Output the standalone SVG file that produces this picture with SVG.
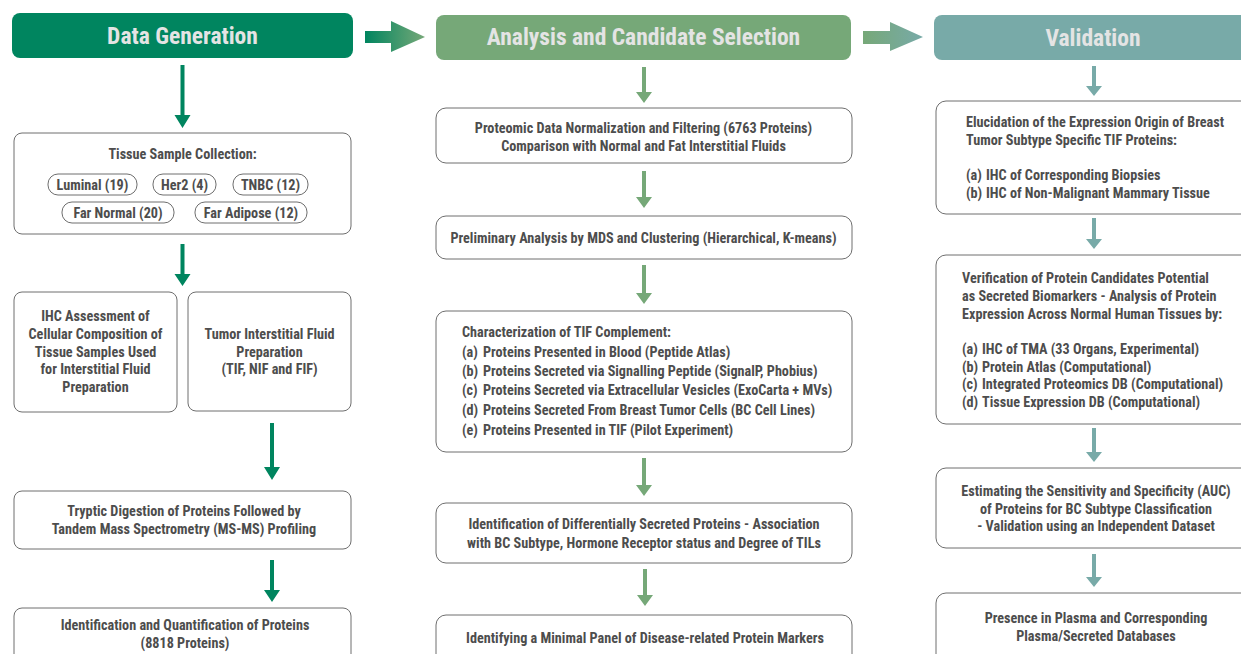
<svg xmlns="http://www.w3.org/2000/svg" width="1241" height="654" viewBox="0 0 1241 654">
<defs>
<style>
.t{font-family:"Liberation Sans Narrow","Roboto Condensed","DejaVu Sans Condensed",sans-serif;font-weight:bold;font-size:14.2px;fill:#4d4d4d}
.c{text-anchor:middle}
.h{font-family:"Liberation Sans Narrow","Roboto Condensed","DejaVu Sans Condensed",sans-serif;font-weight:bold;font-size:23.5px;fill:#e4e4e4;text-anchor:middle}
.box{fill:#fff;stroke:#6e6e6e;stroke-width:1}
.pill{fill:#fff;stroke:#6e6e6e;stroke-width:1}
</style>
<linearGradient id="g1" x1="0" x2="1" y1="0" y2="0"><stop offset="0" stop-color="#00855f"/><stop offset="1" stop-color="#76a878"/></linearGradient>
<linearGradient id="g2" x1="0" x2="1" y1="0" y2="0"><stop offset="0" stop-color="#76a878"/><stop offset="1" stop-color="#78aaa8"/></linearGradient>
</defs>
<rect width="1241" height="654" fill="#fff"/>

<g id="header-data-generation"><rect x="12" y="13" width="341" height="45" rx="8" fill="#00855f"/><text class="h" x="182.5" y="44">Data Generation</text></g>
<g id="header-analysis"><rect x="436" y="15" width="415" height="45" rx="8" fill="#76a878"/><text class="h" x="643.5" y="45">Analysis and Candidate Selection</text></g>
<g id="header-validation"><rect x="934" y="15" width="320" height="45" rx="8" fill="#78aaa8"/><text class="h" x="1093" y="46">Validation</text></g>

<g id="connectors">
<path d="M365 31H391V21L425 37L391 52V43H365Z" fill="url(#g1)"/>
<path d="M863 31H890V22L923 37L890 51V44H863Z" fill="url(#g2)"/>
<g fill="#00855f">
<path d="M180.5 65h4v50h6l-8 13l-8-13h6z"/>
<path d="M180.5 244h4v30h6l-8 12l-8-12h6z"/>
<path d="M270 423h4v44h6l-8 13l-8-13h6z"/>
<path d="M270 560h4v30h6l-8 12l-8-12h6z"/>
</g>
<g fill="#76a878">
<path d="M642 67h4v25h6l-8 11l-8-11h6z"/>
<path d="M642 171h4v26h6l-8 11l-8-11h6z"/>
<path d="M642 265h4v28h6l-8 11l-8-11h6z"/>
<path d="M642 458h4v27h6l-8 11l-8-11h6z"/>
<path d="M643 569h4v26h6l-8 11l-8-11h6z"/>
</g>
<g fill="#78aaa8">
<path d="M1092 66h4v20h6l-8 10l-8-10h6z"/>
<path d="M1092 218h4v21h6l-8 10l-8-10h6z"/>
<path d="M1092 428h4v24h6l-8 10l-8-10h6z"/>
<path d="M1092 554h4v23h6l-8 10l-8-10h6z"/>
</g>
</g>

<g id="tissue-sample-collection">
<rect class="box" x="14" y="133" width="337" height="101" rx="8"/>
<text class="t c" x="182.5" y="159">Tissue Sample Collection:</text>
<rect class="pill" x="48" y="174" width="89" height="21" rx="10"/><text class="t c" x="92.5" y="190">Luminal (19)</text>
<rect class="pill" x="153" y="174" width="63" height="21" rx="10"/><text class="t c" x="184.5" y="190">Her2 (4)</text>
<rect class="pill" x="233" y="174" width="75" height="21" rx="10"/><text class="t c" x="270.5" y="190">TNBC (12)</text>
<rect class="pill" x="62" y="202" width="112" height="21" rx="10"/><text class="t c" x="118" y="218">Far Normal (20)</text>
<rect class="pill" x="195" y="202" width="112" height="21" rx="10"/><text class="t c" x="251" y="218">Far Adipose (12)</text>
</g>

<g id="ihc-assessment">
<rect class="box" x="14" y="292" width="163" height="120" rx="8"/>
<text class="t c" x="95.5" y="321">IHC Assessment of</text>
<text class="t c" x="95.5" y="339">Cellular Composition of</text>
<text class="t c" x="95.5" y="357">Tissue Samples Used</text>
<text class="t c" x="95.5" y="374">for Interstitial Fluid</text>
<text class="t c" x="95.5" y="392">Preparation</text>
</g>

<g id="tif-preparation">
<rect class="box" x="188" y="292" width="163" height="119" rx="8"/>
<text class="t c" x="269.5" y="339">Tumor Interstitial Fluid</text>
<text class="t c" x="269.5" y="357">Preparation</text>
<text class="t c" x="269.5" y="374">(TIF, NIF and FIF)</text>
</g>

<g id="tryptic-digestion">
<rect class="box" x="14" y="491" width="337" height="58" rx="8"/>
<text class="t c" x="184" y="516">Tryptic Digestion of Proteins Followed by</text>
<text class="t c" x="184" y="534">Tandem Mass Spectrometry (MS-MS) Profiling</text>
</g>

<g id="identification-quantification">
<rect class="box" x="14" y="608" width="337" height="60" rx="8"/>
<text class="t c" x="185" y="630">Identification and Quantification of Proteins</text>
<text class="t c" x="185" y="648">(8818 Proteins)</text>
</g>

<g id="normalization">
<rect class="box" x="436" y="108" width="416" height="55" rx="10"/>
<text class="t c" x="643.5" y="133">Proteomic Data Normalization and Filtering (6763 Proteins)</text>
<text class="t c" x="643.5" y="151">Comparison with Normal and Fat Interstitial Fluids</text>
</g>

<g id="preliminary-analysis">
<rect class="box" x="436" y="216" width="416" height="43" rx="10"/>
<text class="t c" x="643.5" y="243">Preliminary Analysis by MDS and Clustering (Hierarchical, K-means)</text>
</g>

<g id="tif-characterization">
<rect class="box" x="436" y="311" width="416" height="141" rx="10"/>
<text class="t" x="462" y="337">Characterization of TIF Complement:</text>
<text class="t" x="462" y="357">(a)</text><text class="t" x="483" y="357">Proteins Presented in Blood (Peptide Atlas)</text>
<text class="t" x="462" y="376">(b)</text><text class="t" x="483" y="376">Proteins Secreted via Signalling Peptide (SignalP, Phobius)</text>
<text class="t" x="462" y="395">(c)</text><text class="t" x="483" y="395">Proteins Secreted via Extracellular Vesicles (ExoCarta + MVs)</text>
<text class="t" x="462" y="415">(d)</text><text class="t" x="483" y="415">Proteins Secreted From Breast Tumor Cells (BC Cell Lines)</text>
<text class="t" x="462" y="435">(e)</text><text class="t" x="483" y="435">Proteins Presented in TIF (Pilot Experiment)</text>
</g>

<g id="differential-secretion">
<rect class="box" x="436" y="503" width="416" height="60" rx="10"/>
<text class="t c" x="644" y="529">Identification of Differentially Secreted Proteins - Association</text>
<text class="t c" x="644" y="548">with BC Subtype, Hormone Receptor status and Degree of TILs</text>
</g>

<g id="minimal-panel">
<rect class="box" x="436" y="615" width="416" height="60" rx="10"/>
<text class="t c" x="645" y="643">Identifying a Minimal Panel of Disease-related Protein Markers</text>
</g>

<g id="expression-origin">
<rect class="box" x="936" y="101" width="320" height="113" rx="10"/>
<text class="t" x="966" y="127">Elucidation of the Expression Origin of Breast</text>
<text class="t" x="966" y="145">Tumor Subtype Specific TIF Proteins:</text>
<text class="t" x="966" y="180">(a)</text><text class="t" x="986" y="180">IHC of Corresponding Biopsies</text>
<text class="t" x="966" y="198">(b)</text><text class="t" x="986" y="198">IHC of Non-Malignant Mammary Tissue</text>
</g>

<g id="verification">
<rect class="box" x="936" y="255" width="320" height="169" rx="10"/>
<text class="t" x="962" y="283">Verification of Protein Candidates Potential</text>
<text class="t" x="962" y="301">as Secreted Biomarkers - Analysis of Protein</text>
<text class="t" x="962" y="319">Expression Across Normal Human Tissues by:</text>
<text class="t" x="962" y="354">(a)</text><text class="t" x="982" y="354">IHC of TMA (33 Organs, Experimental)</text>
<text class="t" x="962" y="372">(b)</text><text class="t" x="982" y="372">Protein Atlas (Computational)</text>
<text class="t" x="962" y="389">(c)</text><text class="t" x="982" y="389">Integrated Proteomics DB (Computational)</text>
<text class="t" x="962" y="407">(d)</text><text class="t" x="982" y="407">Tissue Expression DB (Computational)</text>
</g>

<g id="sensitivity-specificity">
<rect class="box" x="936" y="468" width="320" height="80" rx="10"/>
<text class="t c" x="1096" y="496">Estimating the Sensitivity and Specificity (AUC)</text>
<text class="t c" x="1096" y="514">of Proteins for BC Subtype Classification</text>
<text class="t c" x="1096" y="531">- Validation using an Independent Dataset</text>
</g>

<g id="plasma-presence">
<rect class="box" x="936" y="593" width="320" height="80" rx="10"/>
<text class="t c" x="1096" y="623">Presence in Plasma and Corresponding</text>
<text class="t c" x="1096" y="641">Plasma/Secreted Databases</text>
</g>
</svg>
